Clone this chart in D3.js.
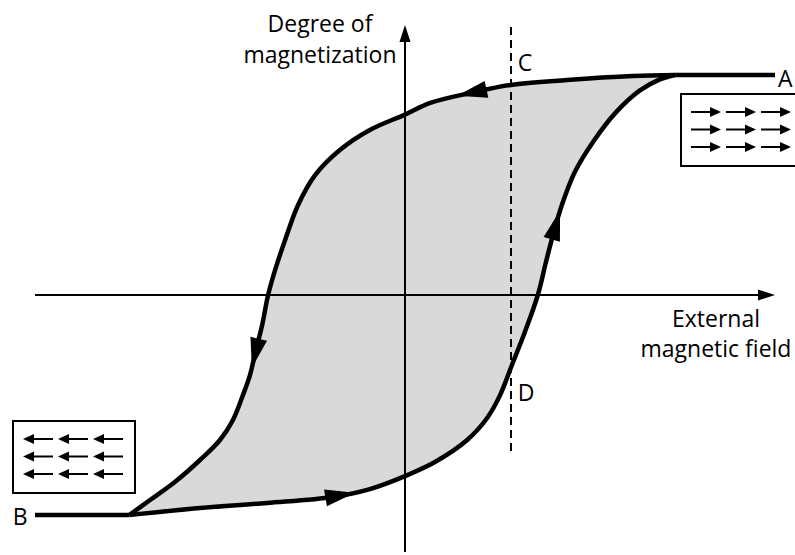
<!DOCTYPE html>
<html><head><meta charset="utf-8">
<script src="https://cdn.jsdelivr.net/npm/d3@7"></script>
<style>
body{margin:0;background:#fff}
svg{display:block}
text{font-family:"Open Sans",sans-serif;font-size:23px;fill:#000}
</style>
</head><body>
<svg id="c" width="795" height="555"></svg>
<script>
// ---- data (field, magnetization) in arbitrary units ----
const saturationTop = [[7.3, 10], [10, 10]];
const saturationBottom = [[-10, -10], [-7.45, -10]];
const upperBranch = [[7.3,10],[6.16,9.95],[4.38,9.77],[2.86,9.55],[1.76,9.18],[0.68,8.73],[0,8.2],
  [-0.95,7.5],[-1.76,6.59],[-2.43,5.45],[-2.89,4.09],[-3.24,2.5],[-3.51,1.14],[-3.7,0],
  [-3.86,-1.36],[-4.03,-2.5],[-4.19,-3.64],[-4.38,-4.55],[-4.65,-5.68],[-5.0,-6.59],
  [-5.54,-7.5],[-6.22,-8.5],[-6.89,-9.32],[-7.45,-10]];
const lowerBranch = [[-7.45,-10],[-5.54,-9.68],[-3.73,-9.45],[-1.95,-9.18],[-0.95,-8.82],[0,-8.23],
  [0.81,-7.59],[1.68,-6.59],[2.22,-5.59],[2.57,-4.55],[2.89,-3.18],[3.24,-1.68],[3.59,0],
  [3.81,1.5],[4.0,2.73],[4.24,4.09],[4.59,5.59],[5.1,7.0],[5.7,8.3],[6.35,9.3],[6.89,9.8],[7.3,10]];
const arrowMarks = [{branch:"upper", x:1.41},{branch:"upper", x:-4.14},{branch:"lower", x:-1.35},{branch:"lower", x:4.19}];
const probeField = 2.865;            // dashed line C–D
const axisX = [-10, 10];
const axisY = [-11.68, 12.27];
const probeY = [-7.14, 12.18];
const pointLabels = [{t:"C", x:3.05, y:10.18},{t:"D", x:3.05, y:-4.8},{t:"A", x:10.08, y:9.45},{t:"B", x:-10.6, y:-10.45}];
const yTitle = ["Degree of", "magnetization"];
const xTitle = ["External", "magnetic field"];
const boxRight = {dir: 1, rows: 3, cols: 3};
const boxLeft = {dir: -1, rows: 3, cols: 3};

// ---- scales ----
const svg = d3.select("#c");
const x = d3.scaleLinear().domain([-10, 10]).range([35, 775]);
const y = d3.scaleLinear().domain([-10, 10]).range([515, 75]);
const line = d3.line().x(d => x(d[0])).y(d => y(d[1])).curve(d3.curveCatmullRom.alpha(0.5));
const straight = d3.line().x(d => x(d[0])).y(d => y(d[1]));

// fill
const loop = upperBranch.concat(lowerBranch.slice(1, -1));
svg.append("path").attr("d", line(upperBranch) + "L" + line(lowerBranch).slice(1) + "Z")
  .attr("fill", "#d9d9d9").attr("stroke", "none");

// axes
const ax = svg.append("g");
ax.append("line").attr("x1", x(axisX[0])).attr("x2", x(axisX[1]) - 10).attr("y1", y(0)).attr("y2", y(0))
  .attr("stroke", "#000").attr("stroke-width", 2);
ax.append("path").attr("d", `M${x(axisX[1])},${y(0)} l-17,-5.5 l0,11 z`).attr("fill", "#000");
ax.append("line").attr("x1", x(0)).attr("x2", x(0)).attr("y1", y(axisY[0])).attr("y2", y(axisY[1]) + 10)
  .attr("stroke", "#000").attr("stroke-width", 2);
ax.append("path").attr("d", `M${x(0)},${y(axisY[1])} l-5.5,17 l11,0 z`).attr("fill", "#000");

// dashed probe line
svg.append("line").attr("x1", x(probeField)).attr("x2", x(probeField)).attr("y1", y(probeY[1])).attr("y2", y(probeY[0]))
  .attr("stroke", "#000").attr("stroke-width", 2).attr("stroke-dasharray", "8,5");

// curves
const curves = {};
curves.upper = svg.append("path").attr("d", line(upperBranch)).attr("fill", "none").attr("stroke", "#000").attr("stroke-width", 4.5);
curves.lower = svg.append("path").attr("d", line(lowerBranch)).attr("fill", "none").attr("stroke", "#000").attr("stroke-width", 4.5);
[saturationTop, saturationBottom].forEach(s => svg.append("path").attr("d", straight(s))
  .attr("fill", "none").attr("stroke", "#000").attr("stroke-width", 4.5));

// arrows on curve
arrowMarks.forEach(a => {
  const node = curves[a.branch].node();
  const L = node.getTotalLength();
  const tx = x(a.x);
  const inc = a.branch === "lower";
  let lo = 0, hi = L;
  for (let i = 0; i < 40; i++) {
    const m = (lo + hi) / 2, p = node.getPointAtLength(m);
    if ((p.x < tx) === inc) lo = m; else hi = m;
  }
  const s = (lo + hi) / 2;
  const tip = node.getPointAtLength(s);
  const back = node.getPointAtLength(Math.max(0, s - 30));
  const ang = Math.atan2(tip.y - back.y, tip.x - back.x) * 180 / Math.PI;
  svg.append("path").attr("d", "M0,0 L-30,-8.5 L-30,8.5 Z")
    .attr("transform", `translate(${tip.x},${tip.y}) rotate(${ang})`).attr("fill", "#000");
});

// labels
const tg = svg.append("g");
yTitle.forEach((t, i) => tg.append("text").attr("x", 320).attr("y", 32 + i * 31).attr("text-anchor", "middle").text(t));
xTitle.forEach((t, i) => tg.append("text").attr("x", 716).attr("y", 327 + i * 30).attr("text-anchor", "middle").text(t));
pointLabels.forEach(p => tg.append("text").attr("x", x(p.x)).attr("y", y(p.y)).text(p.t));

// domain boxes
function drawBox(spec, bx, by) {
  const g = svg.append("g");
  g.append("rect").attr("x", bx).attr("y", by).attr("width", 122).attr("height", 72)
    .attr("fill", "#fff").attr("stroke", "#000").attr("stroke-width", 2);
  for (let r = 0; r < spec.rows; r++) for (let c = 0; c < spec.cols; c++) {
    const x0 = bx + 10 + c * 35, x1 = x0 + 30, yy = by + 18 + r * 17.5;
    const tipX = spec.dir > 0 ? x1 : x0;
    const tailX = spec.dir > 0 ? x0 : x1;
    g.append("line").attr("x1", tailX).attr("x2", tipX - spec.dir * 8).attr("y1", yy).attr("y2", yy)
      .attr("stroke", "#000").attr("stroke-width", 2);
    g.append("path").attr("d", `M${tipX},${yy} l${-spec.dir * 11},-5 l0,10 z`).attr("fill", "#000");
  }
}
drawBox(boxRight, 681, 94);
drawBox(boxLeft, 13, 421);
</script>
</body></html>
